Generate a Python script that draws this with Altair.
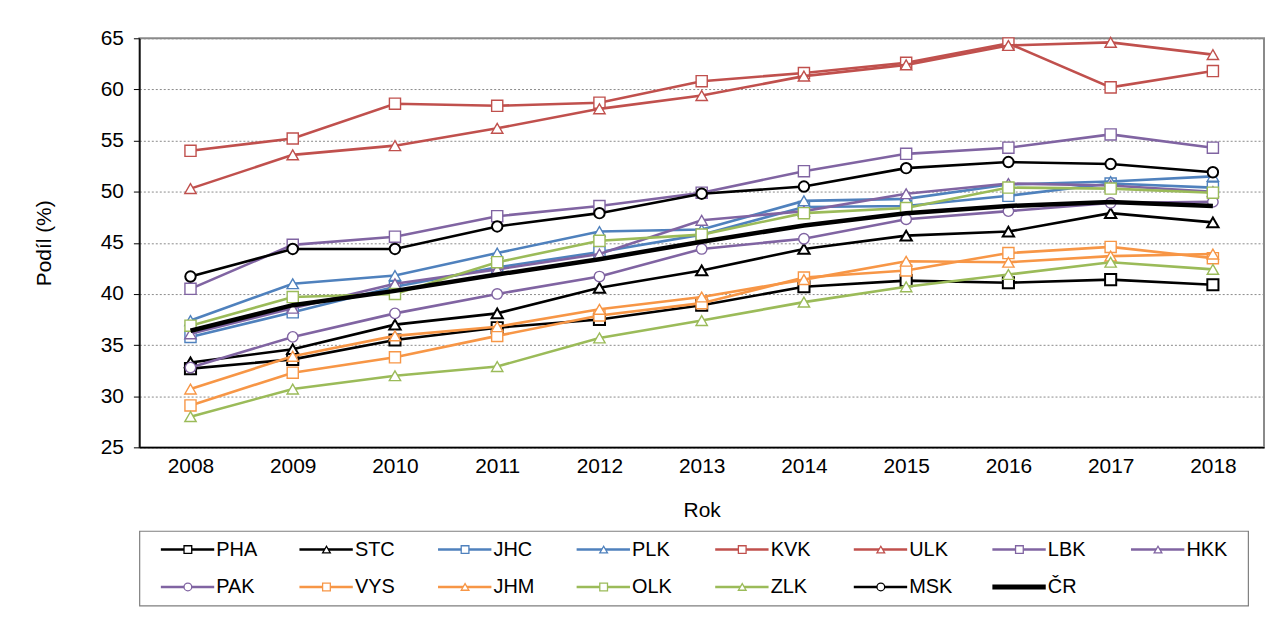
import altair as alt
import pandas as pd

years = [2008, 2009, 2010, 2011, 2012, 2013, 2014, 2015, 2016, 2017, 2018]

PHA = [32.7, 33.6, 35.5, 36.7, 37.5, 38.9, 40.7, 41.3, 41.1, 41.4, 40.9]
STC = [33.3, 34.6, 37.0, 38.1, 40.6, 42.3, 44.4, 45.7, 46.1, 47.9, 47.0]
JHC = [35.8, 38.2, 40.7, 42.6, 44.1, 45.8, 48.5, 48.6, 49.6, 50.8, 50.4]
PLK = [37.4, 41.0, 41.8, 44.0, 46.1, 46.3, 49.1, 49.3, 50.7, 51.0, 51.5]
KVK = [54.0, 55.2, 58.6, 58.4, 58.7, 60.8, 61.6, 62.6, 64.5, 60.2, 61.8]
ULK = [50.3, 53.6, 54.5, 56.2, 58.1, 59.4, 61.3, 62.4, 64.3, 64.6, 63.4]
LBK = [40.5, 44.8, 45.6, 47.6, 48.6, 49.9, 52.0, 53.7, 54.3, 55.6, 54.3]
HKK = [36.1, 38.6, 41.0, 42.4, 43.9, 47.2, 48.1, 49.8, 50.8, 50.6, 50.0]
PAK = [32.8, 35.8, 38.1, 40.0, 41.7, 44.4, 45.4, 47.3, 48.1, 48.9, 49.0]
VYS = [29.1, 32.3, 33.8, 35.9, 37.9, 39.1, 41.6, 42.3, 44.0, 44.6, 43.5]
JHM = [30.7, 33.9, 35.9, 36.8, 38.5, 39.7, 41.4, 43.2, 43.1, 43.7, 43.9]
OLK = [36.9, 39.7, 40.0, 43.1, 45.2, 45.8, 47.9, 48.4, 50.4, 50.3, 49.9]
ZLK = [28.0, 30.7, 32.0, 32.9, 35.7, 37.4, 39.2, 40.7, 41.9, 43.1, 42.4]
MSK = [41.7, 44.4, 44.4, 46.6, 47.9, 49.8, 50.5, 52.3, 52.9, 52.7, 51.9]
CR = [36.4, 38.9, 40.3, 41.9, 43.4, 45.1, 46.7, 47.9, 48.6, 49.0, 48.6]

names = ["PHA", "STC", "JHC", "PLK", "KVK", "ULK", "LBK", "HKK",
         "PAK", "VYS", "JHM", "OLK", "ZLK", "MSK", "ČR"]
series_values = [PHA, STC, JHC, PLK, KVK, ULK, LBK, HKK, PAK, VYS, JHM, OLK, ZLK, MSK, CR]
colors = ["#000000", "#000000", "#4F81BD", "#4F81BD", "#C0504D", "#C0504D",
          "#8064A2", "#8064A2", "#8064A2", "#F79646", "#F79646", "#9BBB59",
          "#9BBB59", "#000000", "#000000"]
shapes = ["square", "triangle-up", "square", "triangle-up", "square", "triangle-up",
          "square", "triangle-up", "circle", "square", "triangle-up", "square",
          "triangle-up", "circle", "none"]

FONT = "Liberation Sans"

x_enc = alt.X(
    "year:O",
    scale=alt.Scale(type="point", padding=0.5),
    axis=alt.Axis(title="Rok", labelAngle=0, ticks=False, tickSize=0, grid=False,
                  domainColor="#000000", domainWidth=1.5, labelFontSize=21,
                  titleFontSize=21, titleFontWeight="normal", labelPadding=8,
                  titlePadding=23, labelColor="#000", titleColor="#000"),
)
y_enc = alt.Y(
    "value:Q",
    scale=alt.Scale(domain=[25, 65], nice=False, zero=False),
    axis=alt.Axis(title="Podíl (%)", values=[25, 30, 35, 40, 45, 50, 55, 60, 65],
                  tickSize=6, tickColor="#000", domainColor="#000000", domainWidth=1.5,
                  gridColor="#8a8a8a", gridDash=[2, 2], gridWidth=1,
                  labelFontSize=21, titleFontSize=21, titleFontWeight="normal",
                  labelPadding=10, titlePadding=46, labelColor="#000", titleColor="#000"),
)

layers = []
for name, vals, col, shp in zip(names, series_values, colors, shapes):
    df = pd.DataFrame({"year": years, "value": vals, "series": name})
    base = alt.Chart(df)
    lw = 4.5 if name == "ČR" else 2.6
    layers.append(base.mark_line(color=col, strokeWidth=lw).encode(x=x_enc, y=y_enc))
    if shp != "none":
        black = col == "#000000"
        size = 110 if shp == "circle" else (125 if shp == "square" else 130)
        layers.append(
            base.mark_point(shape=shp, size=size, filled=True, fill="white",
                            stroke=col, strokeWidth=2 if black else 1.4, opacity=1)
            .encode(x=x_enc, y=y_enc)
        )

plot = alt.layer(*layers).properties(
    width=1130, height=411,
    view=alt.ViewBackground(stroke="#8a8a8a", strokeWidth=2),
)

# legend built from the series lists
leg_rows = []
for i, (name, col, shp) in enumerate(zip(names, colors, shapes)):
    leg_rows.append({"name": name, "color": col, "shape": shp,
                     "col": i % 8, "row": i // 8,
                     "lw": 5 if name == "ČR" else 2.5})
leg_df = pd.DataFrame(leg_rows)

lx = alt.Scale(domain=[0, 8])
ly = alt.Scale(domain=[0, 2], reverse=True)
stroke_scale = alt.Scale(domain=names, range=colors)
shape_scale = alt.Scale(domain=names[:-1], range=shapes[:-1])

leg_base = alt.Chart(leg_df).transform_calculate(
    x1="datum.col + 0.155", x2="datum.col + 0.54", xm="datum.col + 0.35",
    xt="datum.col + 0.555", yc="datum.row + 0.5",
)
leg_lines = leg_base.mark_rule().encode(
    x=alt.X("x1:Q", scale=lx, axis=None),
    x2="x2:Q",
    y=alt.Y("yc:Q", scale=ly, axis=None),
    stroke=alt.Stroke("name:N", scale=stroke_scale, legend=None),
    strokeWidth=alt.StrokeWidth("lw:Q", scale=None, legend=None),
)
leg_pts = leg_base.transform_filter(alt.datum.shape != "none").mark_point(
    filled=True, fill="white", size=60, strokeWidth=1.3, opacity=1
).encode(
    x=alt.X("xm:Q", scale=lx, axis=None),
    y=alt.Y("yc:Q", scale=ly, axis=None),
    stroke=alt.Stroke("name:N", scale=stroke_scale, legend=None),
    shape=alt.Shape("name:N", scale=shape_scale, legend=None),
)
leg_text = leg_base.mark_text(align="left", baseline="middle", fontSize=20,
                              color="#000", font=FONT).encode(
    x=alt.X("xt:Q", scale=lx, axis=None),
    y=alt.Y("yc:Q", scale=ly, axis=None),
    text="name:N",
)
legend = alt.layer(leg_lines, leg_pts, leg_text).properties(
    width=1114, height=75,
    view=alt.ViewBackground(stroke="#7f7f7f", strokeWidth=1.2),
)

chart = alt.vconcat(plot, legend, spacing=9).properties(
    padding={"left": 24, "top": 17, "right": 0, "bottom": 0}
).configure(font=FONT).configure_concat(spacing=9)

chart.save("out.html", embed_options={"renderer": "svg", "actions": False})
